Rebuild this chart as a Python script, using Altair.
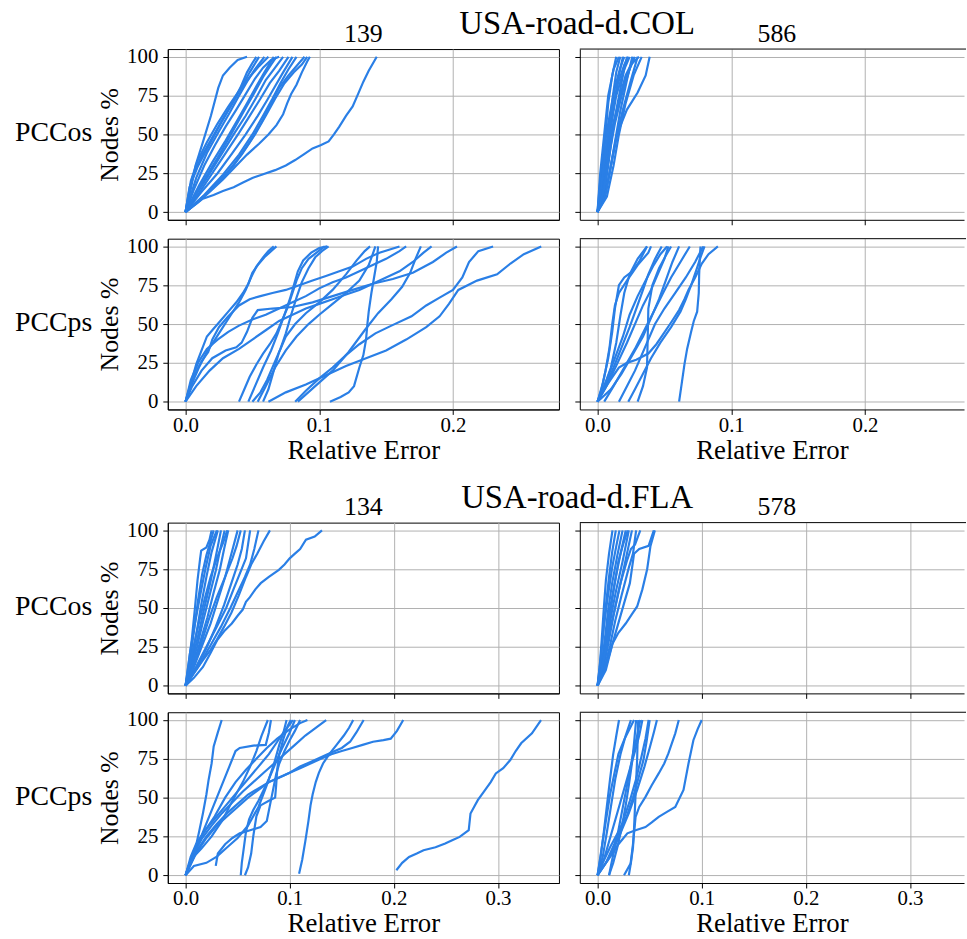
import altair as alt
import pandas as pd

BLUE = "#2a7fe6"
FONT = "Liberation Serif"

# ---------------- data (Relative Error, Nodes %) ----------------
COL_139_OS = [
    [(0,0),(0.004,15),(0.0075,30),(0.013,45),(0.019,62),(0.0245,80),(0.028,88),(0.033,93),(0.039,98),(0.046,100)],
    [(0,0),(0.006,4),(0.013,8.6),(0.021,11),(0.028,13.5),(0.036,16),(0.043,19),(0.05,22),(0.057,24),(0.067,27),(0.075,30),(0.082,33.5),(0.089,37.5),(0.095,41),(0.101,43),(0.107,45.5),(0.111,50),(0.115,55),(0.12,62),(0.125,68),(0.129,76),(0.133,84),(0.137,91),(0.143,100)],
    [(0,0),(0.009,6),(0.018,13),(0.028,21),(0.037,29),(0.046,37),(0.055,44),(0.062,50),(0.068,56),(0.073,63),(0.076,70),(0.079,76),(0.083,82),(0.087,90),(0.091,97),(0.093,100)],
    [(0,0),(0.006,14),(0.014,30),(0.022,43),(0.03,55),(0.038,66),(0.045,76),(0.052,86),(0.058,93),(0.064,98),(0.07,100)],
    [(0,0),(0.01,12),(0.02,25),(0.03,38),(0.04,51),(0.048,62),(0.056,73),(0.063,83),(0.07,91),(0.077,100)],
    [(0,0),(0.005,22),(0.012,36),(0.02,48),(0.028,60),(0.035,70),(0.041,80),(0.046,90),(0.05,96),(0.053,100)],
    [(0,0),(0.012,13),(0.024,25),(0.035,38),(0.045,50),(0.054,62),(0.061,72),(0.067,81),(0.073,90),(0.08,100)],
    [(0,0),(0.008,22),(0.016,38),(0.025,52),(0.033,64),(0.04,75),(0.046,84),(0.052,92),(0.059,100)],
    [(0,0),(0.014,11),(0.028,24),(0.04,37),(0.05,50),(0.058,62),(0.065,73),(0.071,83),(0.077,92),(0.083,100)],
    [(0,0),(0.004,20),(0.009,33),(0.016,45),(0.024,57),(0.032,68),(0.04,78),(0.048,87),(0.055,94),(0.062,100)],
    [(0,0),(0.01,17),(0.02,32),(0.03,46),(0.038,58),(0.046,70),(0.053,81),(0.059,90),(0.066,100)],
    [(0,0),(0.016,12),(0.03,24),(0.042,37),(0.052,50),(0.06,62),(0.067,73),(0.074,83),(0.081,90),(0.087,95),(0.091,100)],
    [(0,0),(0.007,10),(0.016,22),(0.026,36),(0.036,50),(0.045,62),(0.053,74),(0.06,85),(0.067,93),(0.073,100)],
    [(0,0),(0.012,18),(0.024,35),(0.034,50),(0.043,64),(0.051,76),(0.058,87),(0.064,95),(0.068,100)],
    [(0,0),(0.003,16),(0.009,29),(0.017,42),(0.025,55),(0.033,67),(0.041,79),(0.048,90),(0.055,100)],
    [(0,0),(0.02,15),(0.036,30),(0.048,45),(0.057,58),(0.064,70),(0.07,80),(0.077,88),(0.084,95),(0.089,100)],
]

COL_586_OS = [
    [(0,0),(0.002,12),(0.004,30),(0.006,50),(0.008,70),(0.011,88),(0.014,100)],
    [(0,0),(0.003,10),(0.005,28),(0.008,50),(0.011,72),(0.014,90),(0.017,100)],
    [(0,0),(0.004,10),(0.007,28),(0.009,48),(0.012,68),(0.016,88),(0.019,100)],
    [(0,0),(0.002,20),(0.005,42),(0.009,62),(0.013,80),(0.017,93),(0.02,100)],
    [(0,0),(0.005,12),(0.008,30),(0.011,50),(0.015,70),(0.019,88),(0.022,100)],
    [(0,0),(0.003,15),(0.006,35),(0.01,55),(0.014,75),(0.02,92),(0.024,100)],
    [(0,0),(0.005,8),(0.009,25),(0.013,45),(0.017,65),(0.022,85),(0.026,100)],
    [(0,0),(0.004,18),(0.008,40),(0.012,58),(0.017,75),(0.023,90),(0.028,100)],
    [(0,0),(0.006,12),(0.01,30),(0.014,48),(0.019,66),(0.025,85),(0.03,100)],
    [(0,0),(0.006,12),(0.011,34),(0.015,51),(0.022,66),(0.03,77),(0.036,88),(0.039,100)],
    [(0,0),(0.003,18),(0.006,40),(0.01,62),(0.015,82),(0.02,95),(0.023,100)],
    [(0,0),(0.004,12),(0.008,35),(0.012,55),(0.016,72),(0.021,88),(0.025,95),(0.031,100)],
    [(0,0),(0.002,25),(0.005,50),(0.008,75),(0.012,92),(0.016,100)],
    [(0,0),(0.005,15),(0.009,38),(0.013,57),(0.018,75),(0.024,92),(0.027,100)],
    [(0,0),(0.007,10),(0.012,30),(0.016,50),(0.021,70),(0.027,88),(0.033,100)],
]

COL_139_PS = [
    [(0,0),(0.004,12),(0.008,24),(0.012,33),(0.016,42),(0.02,46),(0.026,52),(0.032,58),(0.038,64),(0.043,70),(0.047,76),(0.05,83),(0.054,88),(0.059,93),(0.064,97),(0.068,100)],
    [(0,0),(0.005,12),(0.01,22),(0.016,32),(0.022,40),(0.028,48),(0.034,56),(0.04,64),(0.045,72),(0.049,80),(0.053,87),(0.058,93),(0.062,97),(0.066,100)],
    [(0,0),(0.005,10),(0.012,20),(0.02,28),(0.03,33),(0.038,35),(0.042,38),(0.046,45),(0.05,54),(0.054,59),(0.065,60),(0.08,61),(0.095,64),(0.11,68),(0.125,72),(0.14,76),(0.155,79),(0.17,83),(0.185,90),(0.195,96),(0.203,100)],
    [(0,0),(0.004,14),(0.01,26),(0.016,34),(0.024,40),(0.032,45),(0.04,49),(0.05,53),(0.06,56),(0.07,60),(0.08,64),(0.09,68),(0.1,73),(0.11,77),(0.12,80),(0.13,84),(0.14,88),(0.15,92),(0.16,97),(0.165,100)],
    [(0,0),(0.006,16),(0.012,26),(0.017,32),(0.02,40),(0.025,48),(0.032,55),(0.04,62),(0.048,66),(0.056,68),(0.065,70),(0.075,72),(0.085,75),(0.095,78),(0.105,81),(0.115,84),(0.125,87),(0.135,92),(0.145,96),(0.16,100)],
    [(0.04,0),(0.044,8),(0.048,16),(0.053,24),(0.058,31),(0.063,37),(0.068,44),(0.072,52),(0.076,60),(0.08,70),(0.083,78),(0.087,86),(0.092,92),(0.098,96),(0.104,100)],
    [(0.047,0),(0.052,10),(0.058,22),(0.064,33),(0.069,44),(0.074,56),(0.078,66),(0.081,75),(0.084,84),(0.088,91),(0.094,96),(0.1,99),(0.106,100)],
    [(0.05,0),(0.056,6),(0.061,14),(0.066,24),(0.071,34),(0.075,44),(0.079,56),(0.083,67),(0.087,77),(0.092,86),(0.097,93),(0.102,97),(0.107,100)],
    [(0.054,0),(0.06,10),(0.067,22),(0.075,33),(0.083,42),(0.092,50),(0.1,56),(0.11,63),(0.12,70),(0.13,78),(0.137,88),(0.14,95),(0.142,100)],
    [(0.058,0),(0.062,8),(0.066,20),(0.07,32),(0.075,42),(0.082,50),(0.09,57),(0.1,64),(0.11,72),(0.12,82),(0.128,91),(0.134,97),(0.138,100)],
    [(0.062,0),(0.075,6),(0.09,11),(0.105,17),(0.12,23),(0.135,28),(0.15,33),(0.165,40),(0.18,48),(0.19,55),(0.197,63),(0.204,72),(0.218,78),(0.233,82),(0.243,89),(0.253,95),(0.266,100)],
    [(0.082,0),(0.09,7),(0.1,15),(0.11,22),(0.12,30),(0.13,37),(0.142,44),(0.154,49),(0.169,55),(0.18,62),(0.19,67),(0.2,72),(0.207,80),(0.212,90),(0.219,97),(0.23,100)],
    [(0.108,0),(0.116,3),(0.122,6),(0.126,10),(0.13,22),(0.133,30),(0.135,40),(0.136,50),(0.137,58),(0.139,70),(0.141,80),(0.143,90),(0.144,100)],
    [(0.084,0),(0.097,10),(0.11,20),(0.122,32),(0.134,46),(0.144,57),(0.154,66),(0.162,74),(0.168,83),(0.172,92),(0.176,100)],
    [(0,0),(0.008,10),(0.018,20),(0.028,28),(0.04,34),(0.05,40),(0.06,46),(0.07,52),(0.08,56),(0.09,60),(0.1,63),(0.11,66),(0.12,69),(0.13,72),(0.14,76),(0.15,80),(0.16,84),(0.17,90),(0.178,96),(0.184,100)],
]

COL_586_PS = [
    [(0,0),(0.004,12),(0.008,28),(0.011,45),(0.013,60),(0.016,75),(0.02,80),(0.026,84),(0.031,90),(0.037,100)],
    [(0,0),(0.005,10),(0.01,22),(0.014,38),(0.017,55),(0.02,70),(0.024,82),(0.03,92),(0.037,100)],
    [(0,0),(0.006,10),(0.012,22),(0.018,35),(0.024,48),(0.029,60),(0.034,72),(0.038,82),(0.043,92),(0.048,100)],
    [(0,0),(0.008,12),(0.015,25),(0.022,38),(0.028,50),(0.034,62),(0.04,72),(0.045,82),(0.05,92),(0.053,100)],
    [(0,0),(0.01,8),(0.018,18),(0.026,30),(0.034,42),(0.04,54),(0.046,66),(0.051,78),(0.056,90),(0.061,100)],
    [(0.005,0),(0.012,10),(0.02,22),(0.028,34),(0.035,46),(0.042,58),(0.049,70),(0.055,80),(0.062,90),(0.069,100)],
    [(0,0),(0.008,12),(0.016,22),(0.022,25),(0.029,27),(0.038,31),(0.044,37),(0.048,42),(0.055,51),(0.061,59),(0.065,66),(0.068,72),(0.073,80),(0.078,89),(0.083,95),(0.09,100)],
    [(0.061,0),(0.063,12),(0.065,24),(0.067,34),(0.07,45),(0.072,52),(0.0745,58),(0.0757,70),(0.076,82),(0.0765,92),(0.077,100)],
    [(0.016,0),(0.022,10),(0.028,20),(0.033,30),(0.038,40),(0.043,50),(0.05,60),(0.058,70),(0.066,80),(0.073,90),(0.079,100)],
    [(0.03,0),(0.034,10),(0.037,22),(0.0375,40),(0.038,60),(0.041,75),(0.046,86),(0.051,94),(0.055,100)],
    [(0,0),(0.003,8),(0.006,20),(0.009,35),(0.011,50),(0.013,62),(0.016,70),(0.022,78),(0.03,88),(0.038,96),(0.04,100)],
    [(0.023,0),(0.028,8),(0.034,18),(0.04,28),(0.047,38),(0.055,48),(0.062,58),(0.066,66),(0.07,75),(0.074,85),(0.077,93),(0.08,100)],
    [(0,0),(0.007,14),(0.013,28),(0.019,42),(0.024,56),(0.03,68),(0.036,78),(0.042,88),(0.047,95),(0.052,100)],
]

FLA_134_OS = [
    [(0,0),(0.003,14),(0.006,30),(0.009,50),(0.0115,68),(0.014,82),(0.015,87),(0.02,89),(0.023,94),(0.025,100)],
    [(0,0),(0.008,5),(0.0167,12),(0.024,21),(0.0306,29.5),(0.037,35),(0.0444,40),(0.05,45),(0.0549,49),(0.058,54),(0.0618,57),(0.067,62),(0.0722,66),(0.08,70),(0.0896,74.6),(0.095,78),(0.1,82),(0.105,85),(0.11,88),(0.1156,94),(0.124,96),(0.131,100)],
    [(0,0),(0.008,8),(0.0167,16.5),(0.024,23),(0.03,29.5),(0.037,38),(0.044,47),(0.051,58),(0.058,70),(0.063,78),(0.0688,85),(0.075,93),(0.081,100)],
    [(0,0),(0.004,15),(0.008,35),(0.012,55),(0.016,72),(0.02,84),(0.024,93),(0.027,100)],
    [(0,0),(0.005,14),(0.01,32),(0.015,52),(0.02,70),(0.025,86),(0.031,100)],
    [(0,0),(0.006,15),(0.012,32),(0.018,50),(0.024,67),(0.029,83),(0.034,100)],
    [(0,0),(0.005,10),(0.011,25),(0.017,42),(0.023,58),(0.029,74),(0.033,87),(0.0375,100)],
    [(0,0),(0.007,12),(0.014,28),(0.021,44),(0.027,60),(0.033,75),(0.037,88),(0.041,100)],
    [(0,0),(0.008,12),(0.016,26),(0.024,40),(0.031,55),(0.038,70),(0.044,85),(0.05,100)],
    [(0,0),(0.006,10),(0.014,25),(0.022,42),(0.03,57),(0.038,70),(0.045,82),(0.049,90),(0.053,100)],
    [(0,0),(0.01,11),(0.02,24),(0.029,38),(0.037,52),(0.044,66),(0.05,78),(0.054,88),(0.057,100)],
    [(0,0),(0.01,12),(0.02,25),(0.03,38),(0.039,50),(0.046,62),(0.052,72),(0.058,82),(0.062,100)],
    [(0,0),(0.012,12),(0.024,26),(0.034,38),(0.043,50),(0.05,60),(0.057,70),(0.062,78),(0.066,88),(0.07,100)],
    [(0,0),(0.004,20),(0.009,40),(0.014,58),(0.019,75),(0.024,90),(0.03,100)],
    [(0,0),(0.006,20),(0.012,38),(0.018,55),(0.024,70),(0.03,82),(0.036,92),(0.04,100)],
]

FLA_578_OS = [
    [(0,0),(0.002,12),(0.004,30),(0.006,50),(0.008,68),(0.011,85),(0.0143,100)],
    [(0,0),(0.003,14),(0.005,32),(0.008,52),(0.011,70),(0.014,86),(0.0175,100)],
    [(0,0),(0.004,12),(0.007,30),(0.01,48),(0.014,66),(0.019,84),(0.024,100)],
    [(0,0),(0.004,15),(0.008,32),(0.012,50),(0.017,68),(0.022,85),(0.027,100)],
    [(0,0),(0.005,12),(0.009,28),(0.013,45),(0.018,62),(0.024,80),(0.03,100)],
    [(0,0),(0.005,10),(0.01,26),(0.015,44),(0.02,60),(0.026,78),(0.033,100)],
    [(0,0),(0.006,10),(0.012,26),(0.017,42),(0.023,58),(0.03,76),(0.034,85),(0.037,100)],
    [(0,0),(0.007,10),(0.013,24),(0.019,38),(0.025,52),(0.031,66),(0.034,80),(0.035,85),(0.04,88),(0.049,90),(0.054,100)],
    [(0,0),(0.0079,10),(0.0143,27),(0.02,34),(0.027,40),(0.033,46),(0.038,51),(0.043,62),(0.0476,75),(0.0508,90),(0.055,100)],
    [(0,0),(0.003,18),(0.006,38),(0.01,58),(0.014,76),(0.018,90),(0.021,100)],
    [(0,0),(0.004,10),(0.008,28),(0.012,46),(0.016,64),(0.02,80),(0.025,92),(0.029,100)],
    [(0,0),(0.005,14),(0.01,30),(0.016,48),(0.022,66),(0.028,80),(0.032,88),(0.036,91),(0.041,100)],
]

FLA_134_PS = [
    [(0,0),(0.005,9),(0.0097,18),(0.013,28),(0.0167,40),(0.02,52),(0.022,61),(0.025,72),(0.027,83),(0.031,92),(0.0347,100)],
    [(0.2024,3.2),(0.208,8),(0.2146,11.8),(0.222,14),(0.2285,16.1),(0.24,18),(0.2493,20.4),(0.256,22.5),(0.2632,24.7),(0.2719,29),(0.2736,39.8),(0.277,44),(0.2806,48.4),(0.2875,54.8),(0.293,60),(0.2979,65.6),(0.305,69),(0.3118,74.2),(0.317,80),(0.3222,85),(0.3326,91.4),(0.3413,100)],
    [(0.109,1),(0.112,10),(0.115,22),(0.118,35),(0.12,45),(0.122,52),(0.125,60),(0.128,66),(0.132,72),(0.138,78),(0.145,84),(0.152,90),(0.157,95),(0.161,100)],
    [(0,0),(0.01,15),(0.02,25),(0.03,33),(0.04,40),(0.05,46),(0.06,52),(0.07,56),(0.08,60),(0.09,63),(0.1,66),(0.11,69),(0.12,72),(0.13,75),(0.14,78),(0.15,80),(0.16,82),(0.17,84),(0.18,86),(0.19,87),(0.197,88),(0.203,93),(0.209,100)],
    [(0,0),(0.01,14),(0.02,24),(0.03,32),(0.04,38),(0.05,44),(0.06,50),(0.07,55),(0.08,60),(0.09,63),(0.1,66),(0.11,70),(0.12,73),(0.13,76),(0.14,79),(0.15,82),(0.158,86),(0.164,92),(0.171,100)],
    [(0.029,6),(0.031,14),(0.038,20),(0.045,24),(0.052,27),(0.062,29),(0.072,31),(0.078,35),(0.081,45),(0.084,55),(0.087,65),(0.09,72),(0.095,80),(0.1,87),(0.105,93),(0.11,100)],
    [(0.053,0),(0.054,8),(0.056,18),(0.058,28),(0.061,36),(0.065,42),(0.07,48),(0.075,55),(0.08,62),(0.085,70),(0.09,78),(0.095,85),(0.1,92),(0.105,100)],
    [(0.057,0),(0.06,5),(0.063,14),(0.065,25),(0.068,38),(0.072,45),(0.08,48),(0.086,50),(0.087,58),(0.088,68),(0.09,78),(0.094,88),(0.098,96),(0.101,100)],
    [(0,0),(0.006,10),(0.012,20),(0.018,30),(0.024,40),(0.03,50),(0.036,60),(0.042,70),(0.048,80),(0.052,82),(0.065,83.5),(0.077,84),(0.08,92),(0.082,100)],
    [(0,0),(0.006,12),(0.012,22),(0.02,30),(0.03,38),(0.04,46),(0.05,54),(0.06,62),(0.07,70),(0.08,78),(0.088,86),(0.095,93),(0.1,97),(0.103,100)],
    [(0,0),(0.008,14),(0.016,24),(0.025,32),(0.035,40),(0.045,47),(0.055,54),(0.065,60),(0.075,66),(0.085,72),(0.095,78),(0.105,84),(0.115,90),(0.125,95),(0.135,100)],
    [(0,0),(0.005,12),(0.01,20),(0.018,28),(0.028,38),(0.038,50),(0.048,60),(0.058,68),(0.068,75),(0.078,82),(0.088,88),(0.1,94),(0.11,98),(0.117,100)],
    [(0,0),(0.004,8),(0.008,12),(0.015,17),(0.025,25),(0.035,35),(0.045,48),(0.055,60),(0.062,70),(0.068,80),(0.073,90),(0.079,100)],
    [(0,0),(0.008,6),(0.02,8),(0.03,12),(0.04,18),(0.05,24),(0.06,32),(0.07,44),(0.078,58),(0.085,72),(0.09,84),(0.094,92),(0.097,100)],
]

FLA_578_PS = [
    [(0,0),(0.007,7),(0.0143,14),(0.02,20),(0.0286,27),(0.0365,29),(0.046,31),(0.052,34),(0.0587,37.6),(0.067,41),(0.0746,44),(0.0825,55),(0.0873,72),(0.092,87),(0.096,94),(0.1,100)],
    [(0.0254,0),(0.0317,7.5),(0.034,20),(0.0365,37.6),(0.04,44),(0.046,50.5),(0.052,58),(0.0587,65.6),(0.064,72),(0.068,78.5),(0.0746,91.4),(0.078,100)],
    [(0,0),(0.003,12),(0.006,28),(0.009,45),(0.012,62),(0.015,78),(0.018,90),(0.0206,100)],
    [(0,0),(0.005,12),(0.009,28),(0.013,45),(0.017,62),(0.022,78),(0.027,90),(0.032,100)],
    [(0.011,0),(0.015,8),(0.019,18),(0.023,30),(0.027,45),(0.03,58),(0.033,72),(0.035,85),(0.037,100)],
    [(0.03,0),(0.032,8),(0.034,18),(0.035,30),(0.036,45),(0.037,60),(0.038,75),(0.0385,88),(0.039,100)],
    [(0,0),(0.006,10),(0.012,24),(0.018,38),(0.024,52),(0.03,66),(0.036,80),(0.04,90),(0.043,100)],
    [(0,0),(0.008,8),(0.016,20),(0.024,34),(0.031,48),(0.037,62),(0.042,76),(0.046,88),(0.049,100)],
    [(0,0),(0.01,10),(0.02,24),(0.03,40),(0.038,55),(0.045,70),(0.05,82),(0.054,92),(0.057,100)],
    [(0,0),(0.004,18),(0.008,35),(0.012,52),(0.016,65),(0.02,78),(0.026,88),(0.032,96),(0.035,100)],
    [(0.011,0),(0.014,10),(0.018,22),(0.022,36),(0.026,50),(0.03,64),(0.034,78),(0.038,90),(0.041,100)],
    [(0,0),(0.005,8),(0.012,18),(0.02,28),(0.028,38),(0.034,50),(0.039,62),(0.044,74),(0.047,86),(0.05,100)],
]

Y_TICKS = [0, 25, 50, 75, 100]
COL_X_TICKS = [0.0, 0.1, 0.2]
FLA_X_TICKS = [0.0, 0.1, 0.2, 0.3]

# ---------------- layout ----------------
PANEL_H = 172
LEFT_W = 394
RIGHT_W = 387
COL_PX_PER_UNIT = 1347.0
FLA_PX_PER_UNIT = 1049.0
COL_X0 = -0.01325
FLA_X0 = -0.01707


def to_frame(series):
    rows = []
    for i, s in enumerate(series):
        for j, (x, y) in enumerate(s):
            rows.append({"s": i, "o": j, "x": x, "y": y})
    return pd.DataFrame(rows)


def panel(series, x0, pxu, xticks, width, is_left, is_bottom, title=None, rowlabel=None):
    xdom = [x0, x0 + width / pxu]
    xaxis = alt.Axis(values=xticks, format=".1f", labels=is_bottom, ticks=True,
                     title="Relative Error" if is_bottom else None, grid=True,
                     titleFontSize=27, labelPadding=0, titlePadding=2)
    yaxis = alt.Axis(values=Y_TICKS, labels=is_left, ticks=True,
                     title="Nodes %" if is_left else None, grid=True,
                     titleFontSize=26, labelPadding=5, titlePadding=4)
    lines = alt.Chart(to_frame(series)).mark_line(color=BLUE, strokeWidth=2.2, clip=True).encode(
        x=alt.X("x:Q", scale=alt.Scale(domain=xdom, nice=False, zero=False), axis=xaxis),
        y=alt.Y("y:Q", scale=alt.Scale(domain=[-5, 105], nice=False, zero=False), axis=yaxis),
        detail="s:N",
        order="o:Q",
    )
    layers = [lines]
    if rowlabel:
        layers.append(
            alt.Chart(pd.DataFrame({"t": [rowlabel]})).mark_text(
                font=FONT, fontSize=28, color="black", align="center", baseline="middle"
            ).encode(text="t:N", x=alt.value(-115), y=alt.value(PANEL_H / 2 - 1))
        )
    if not is_left:
        layers.append(
            alt.Chart(pd.DataFrame({"t": [0]})).mark_rule(color="black", strokeWidth=1).encode(
                x=alt.value(0), x2=alt.value(width + 2), y=alt.value(0)
            )
        )
    ch = alt.layer(*layers).properties(width=width, height=PANEL_H)
    if title:
        ch = ch.properties(title=alt.TitleParams(
            title, fontSize=26, font=FONT, fontWeight="normal", anchor="middle",
            offset=-1 if is_left else 2, dx=0 if is_left else 5, color="black"))
    if not is_left:
        ch = ch.properties(view=alt.ViewBackground(stroke="transparent"))
    return ch


def group(name, os_l, os_r, ps_l, ps_r, t_l, t_r, x0, pxu, xticks):
    r1 = alt.hconcat(
        panel(os_l, x0, pxu, xticks, LEFT_W, True, False, title=t_l, rowlabel="PCCos"),
        panel(os_r, x0, pxu, xticks, RIGHT_W, False, False, title=t_r),
        spacing=14,
    )
    r2 = alt.hconcat(
        panel(ps_l, x0, pxu, xticks, LEFT_W, True, True, rowlabel="PCCps"),
        panel(ps_r, x0, pxu, xticks, RIGHT_W, False, True),
        spacing=14,
    )
    return alt.vconcat(r1, r2, spacing=9).properties(
        title=alt.TitleParams(name, fontSize=33, font=FONT, fontWeight="normal",
                              anchor="middle", offset=-21, dx=87, color="black")
    )


col = group("USA-road-d.COL", COL_139_OS, COL_586_OS, COL_139_PS, COL_586_PS,
            "139", "586", COL_X0, COL_PX_PER_UNIT, COL_X_TICKS)
fla = group("USA-road-d.FLA", FLA_134_OS, FLA_578_OS, FLA_134_PS, FLA_578_PS,
            "134", "578", FLA_X0, FLA_PX_PER_UNIT, FLA_X_TICKS)

chart = alt.vconcat(col, fla, spacing=18).properties(
    padding={"left": 14, "top": 5, "right": 0, "bottom": 0}
).configure_axis(
    labelFont=FONT, titleFont=FONT, labelFontSize=21,
    titleFontWeight="normal", labelColor="black", titleColor="black",
    tickColor="black", tickSize=5, tickWidth=1, gridColor="#b0b0b0", gridWidth=1,
    domainColor="black", domainWidth=1,
).configure_view(stroke="black", strokeWidth=1)

chart.save("out.html", embed_options={"renderer": "svg", "actions": False})
